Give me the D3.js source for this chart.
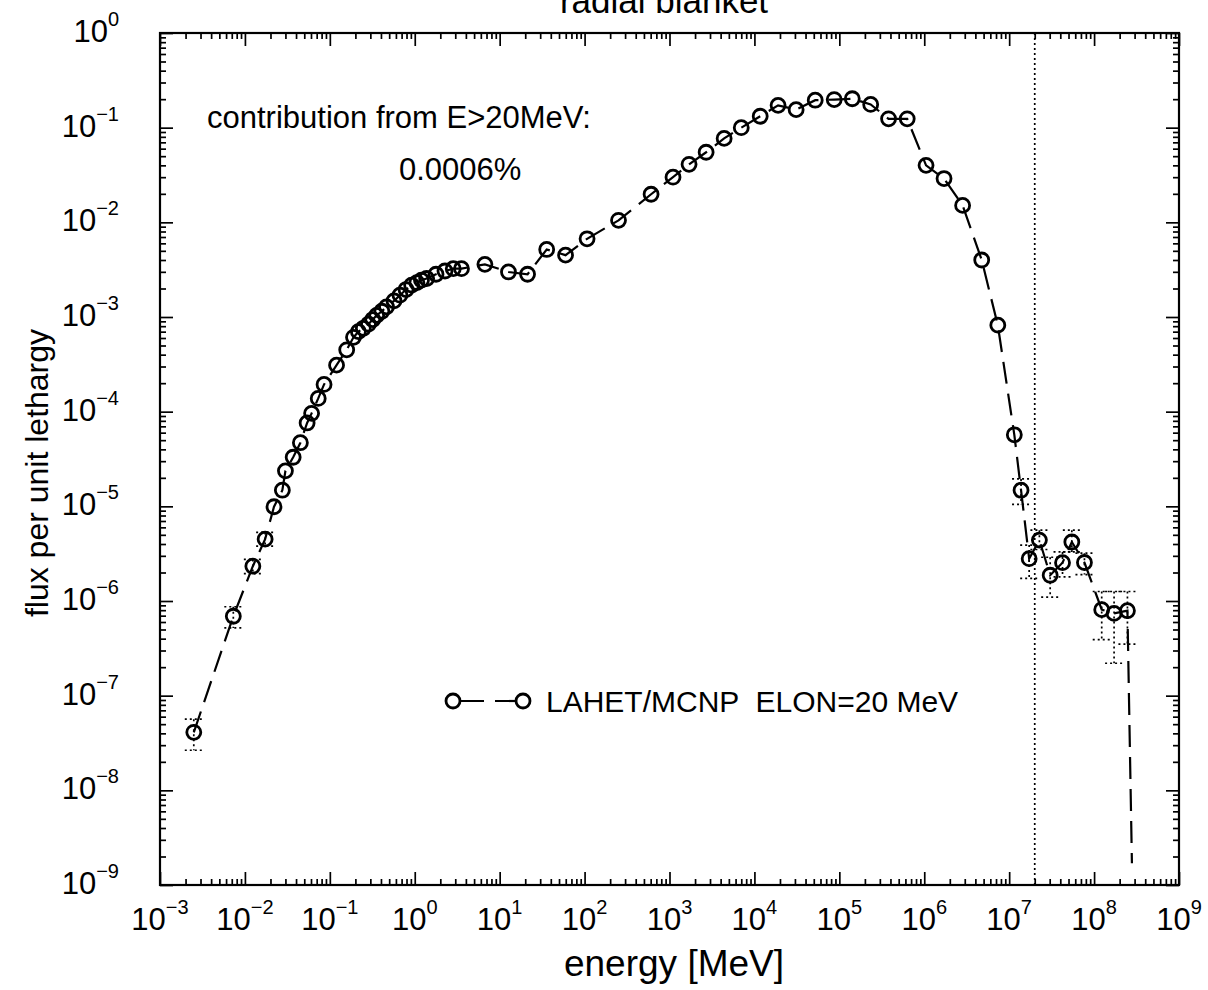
<!DOCTYPE html>
<html>
<head>
<meta charset="utf-8">
<script src="https://cdn.jsdelivr.net/npm/d3@7"></script>
<style>
body { margin: 0; background: #fff; }
svg { font-family: "Liberation Sans", Arial, Helvetica, sans-serif; }
</style>
</head>
<body>
<div class="graph"></div>
<script>
// values
const energy = [2.5e-3, 7.3e-3, 1.24e-2, 1.73e-2, 2.2e-2, 2.76e-2, 3.0e-2, 3.7e-2, 4.5e-2, 5.4e-2,
	6.1e-2, 7.3e-2, 8.55e-2, 0.12, 0.158, 0.19, 0.217, 0.248, 0.285, 0.32,
	0.356, 0.41, 0.465, 0.57, 0.67, 0.79, 0.92, 1.06, 1.2, 1.38,
	1.78, 2.27, 2.84, 3.55, 6.7, 12.7, 21.3, 35.8, 59.7, 107,
	251, 607, 1.1e3, 1.7e3, 2.7e3, 4.4e3, 7.0e3, 1.17e4, 1.9e4, 3.1e4,
	5.2e4, 8.7e4, 1.42e5, 2.34e5, 3.8e5, 6.3e5, 1.05e6, 1.71e6, 2.83e6, 4.75e6,
	7.35e6, 1.15e7, 1.38e7, 1.72e7, 2.27e7, 3.04e7, 4.25e7, 5.47e7, 7.7e7, 1.23e8,
	1.72e8, 2.47e8];
const flux = [4.1e-8, 6.9e-7, 2.33e-6, 4.5e-6, 9.9e-6, 1.48e-5, 2.37e-5, 3.3e-5, 4.7e-5, 7.6e-5,
	9.6e-5, 1.38e-4, 1.94e-4, 3.1e-4, 4.5e-4, 6.1e-4, 7.0e-4, 7.6e-4, 8.4e-4, 9.4e-4,
	1.04e-3, 1.15e-3, 1.28e-3, 1.48e-3, 1.7e-3, 1.95e-3, 2.17e-3, 2.31e-3, 2.45e-3, 2.55e-3,
	2.83e-3, 3.06e-3, 3.24e-3, 3.24e-3, 3.6e-3, 2.99e-3, 2.83e-3, 5.17e-3, 4.5e-3, 6.7e-3,
	1.05e-2, 1.98e-2, 3.0e-2, 4.1e-2, 5.5e-2, 7.7e-2, 0.1, 0.132, 0.172, 0.155,
	0.195, 0.198, 0.202, 0.176, 0.124, 0.124, 4.0e-2, 2.9e-2, 1.51e-2, 4.0e-3,
	8.2e-4, 5.7e-5, 1.48e-5, 2.8e-6, 4.4e-6, 1.87e-6, 2.54e-6, 4.2e-6, 2.55e-6, 8.1e-7,
	7.4e-7, 7.9e-7];

// error bars that show outside the markers
const errEnergy = [2.5e-3, 7.3e-3, 1.24e-2, 1.73e-2, 1.38e7, 1.72e7, 2.27e7, 3.04e7, 4.25e7, 5.47e7, 7.7e7, 1.23e8, 1.72e8, 2.47e8];
const errLow = [2.65e-8, 5.2e-7, 1.95e-6, 3.8e-6, 1.05e-5, 1.73e-6, 3.5e-6, 1.1e-6, 1.8e-6, 3.3e-6, 1.9e-6, 3.9e-7, 2.2e-7, 3.5e-7];
const errHigh = [5.65e-8, 8.7e-7, 2.75e-6, 5.3e-6, 1.95e-5, 3.9e-6, 5.6e-6, 2.9e-6, 3.3e-6, 5.6e-6, 3.2e-6, 1.26e-6, 1.26e-6, 1.26e-6];

// the curve drops off the bottom after the last bin
const dropEnergy = 2.79e8;
const dropFlux = 1.7e-9;

const cutEnergy = 2e7;

const xTickPowers = [-3, -2, -1, 0, 1, 2, 3, 4, 5, 6, 7, 8, 9];
const yTickPowers = [0, -1, -2, -3, -4, -5, -6, -7, -8, -9];

let width = 1208;
let height = 990;
let plotLeft = 160, plotRight = 1179, plotTop = 33, plotBottom = 885;

let svg = d3.select(".graph")
	.append("svg")
	.attr("width", width)
	.attr("height", height);

let x = d3.scaleLog().domain([1e-3, 1e9]).range([plotLeft, plotRight]);
let y = d3.scaleLog().domain([1e-9, 1]).range([plotBottom, plotTop]);

// major and minor tick positions
let xMajor = xTickPowers.map(p => Math.pow(10, p));
let yMajor = yTickPowers.map(p => Math.pow(10, p));
let xMinor = [];
xTickPowers.slice(0, -1).forEach(p => {
	for (let k = 2; k <= 9; k++) xMinor.push(k * Math.pow(10, p));
});
let yMinor = [];
yTickPowers.slice(1).forEach(p => {
	for (let k = 2; k <= 9; k++) yMinor.push(k * Math.pow(10, p));
});

// ticks point inward on all four sides
function tickAxis(axis, vals, size, transform){
	let g = svg.append("g")
		.attr("transform", transform)
		.call(axis.tickValues(vals).tickSizeInner(size).tickSizeOuter(0).tickFormat(""));
	g.select(".domain").remove();
	g.selectAll(".tick line").attr("stroke", "#000").attr("stroke-width", 1.7);
}
tickAxis(d3.axisBottom(x), xMajor, -13, "translate(0," + plotBottom + ")");
tickAxis(d3.axisBottom(x), xMinor, -6, "translate(0," + plotBottom + ")");
tickAxis(d3.axisTop(x), xMajor, -13, "translate(0," + plotTop + ")");
tickAxis(d3.axisTop(x), xMinor, -6, "translate(0," + plotTop + ")");
tickAxis(d3.axisLeft(y), yMajor, -13, "translate(" + plotLeft + ",0)");
tickAxis(d3.axisLeft(y), yMinor, -6, "translate(" + plotLeft + ",0)");
tickAxis(d3.axisRight(y), yMajor, -13, "translate(" + plotRight + ",0)");
tickAxis(d3.axisRight(y), yMinor, -6, "translate(" + plotRight + ",0)");

svg.append("rect")
	.attr("x", plotLeft).attr("y", plotTop)
	.attr("width", plotRight - plotLeft).attr("height", plotBottom - plotTop)
	.attr("fill", "none")
	.attr("stroke", "#000")
	.attr("stroke-width", 2.2);

function powLabel(sel, d){
	sel.append("tspan").text("10");
	sel.append("tspan")
		.attr("dy", -16)
		.attr("font-size", 20)
		.text(d < 0 ? "\u2212" + (-d) : d);
}

svg.selectAll(".xlab")
	.data(xTickPowers)
	.enter().append("text")
	.attr("class", "xlab")
	.attr("x", d => x(Math.pow(10, d)))
	.attr("y", 930)
	.attr("text-anchor", "middle")
	.attr("font-size", 31)
	.each(function(d){ powLabel(d3.select(this), d); });

svg.selectAll(".ylab")
	.data(yTickPowers)
	.enter().append("text")
	.attr("class", "ylab")
	.attr("x", 119)
	.attr("y", d => y(Math.pow(10, d)) + 9)
	.attr("text-anchor", "end")
	.attr("font-size", 31)
	.each(function(d){ powLabel(d3.select(this), d); });

// axis titles and notes
svg.append("text")
	.attr("x", 664).attr("y", 13)
	.attr("text-anchor", "middle")
	.attr("font-size", 35)
	.text("radial blanket");

svg.append("text")
	.attr("x", 674).attr("y", 976)
	.attr("text-anchor", "middle")
	.attr("font-size", 37)
	.text("energy [MeV]");

svg.append("text")
	.attr("transform", "translate(48,473) rotate(-90)")
	.attr("text-anchor", "middle")
	.attr("font-size", 32)
	.text("flux per unit lethargy");

svg.append("text")
	.attr("x", 207).attr("y", 128)
	.attr("font-size", 31)
	.text("contribution from E>20MeV:");

svg.append("text")
	.attr("x", 399).attr("y", 180)
	.attr("font-size", 31)
	.text("0.0006%");

// 20 MeV cut
svg.append("line")
	.attr("x1", x(cutEnergy)).attr("x2", x(cutEnergy))
	.attr("y1", plotTop).attr("y2", plotBottom)
	.attr("stroke", "#000")
	.attr("stroke-width", 1.7)
	.attr("stroke-dasharray", "2,3");

// error bars, dotted
let errs = errEnergy.map((e, i) => ({e: e, lo: errLow[i], hi: errHigh[i]}));
let errG = svg.append("g")
	.attr("stroke", "#000")
	.attr("stroke-width", 1.7)
	.attr("stroke-dasharray", "2,3");
errs.forEach(d => {
	let cx = x(d.e);
	errG.append("line").attr("x1", cx).attr("x2", cx).attr("y1", y(d.hi)).attr("y2", y(d.lo));
	errG.append("line").attr("x1", cx - 9).attr("x2", cx + 9).attr("y1", y(d.hi)).attr("y2", y(d.hi));
	errG.append("line").attr("x1", cx - 9).attr("x2", cx + 9).attr("y1", y(d.lo)).attr("y2", y(d.lo));
});

// the spectrum
let points = energy.map((e, i) => ({e: e, f: flux[i]}));
let linePts = points.concat([{e: dropEnergy, f: dropFlux}]);

let line = d3.line()
	.x(d => x(d.e))
	.y(d => y(d.f));

svg.append("path")
	.datum(linePts)
	.attr("d", line)
	.attr("fill", "none")
	.attr("stroke", "#000")
	.attr("stroke-width", 2.2)
	.attr("stroke-dasharray", "22,10");

svg.selectAll(".pt")
	.data(points)
	.enter().append("circle")
	.attr("class", "pt")
	.attr("cx", d => x(d.e))
	.attr("cy", d => y(d.f))
	.attr("r", 7)
	.attr("fill", "none")
	.attr("stroke", "#000")
	.attr("stroke-width", 2.8);

// legend
let legY = 701;
svg.append("line")
	.attr("x1", 460).attr("x2", 516)
	.attr("y1", legY).attr("y2", legY)
	.attr("stroke", "#000")
	.attr("stroke-width", 2.2)
	.attr("stroke-dasharray", "24,11");
[453, 523].forEach(cx => {
	svg.append("circle")
		.attr("cx", cx).attr("cy", legY)
		.attr("r", 7)
		.attr("fill", "none")
		.attr("stroke", "#000")
		.attr("stroke-width", 2.8);
});
svg.append("text")
	.attr("x", 546).attr("y", legY + 11)
	.attr("font-size", 30)
	.style("white-space", "pre")
	.text("LAHET/MCNP  ELON=20 MeV");
</script>
</body>
</html>
